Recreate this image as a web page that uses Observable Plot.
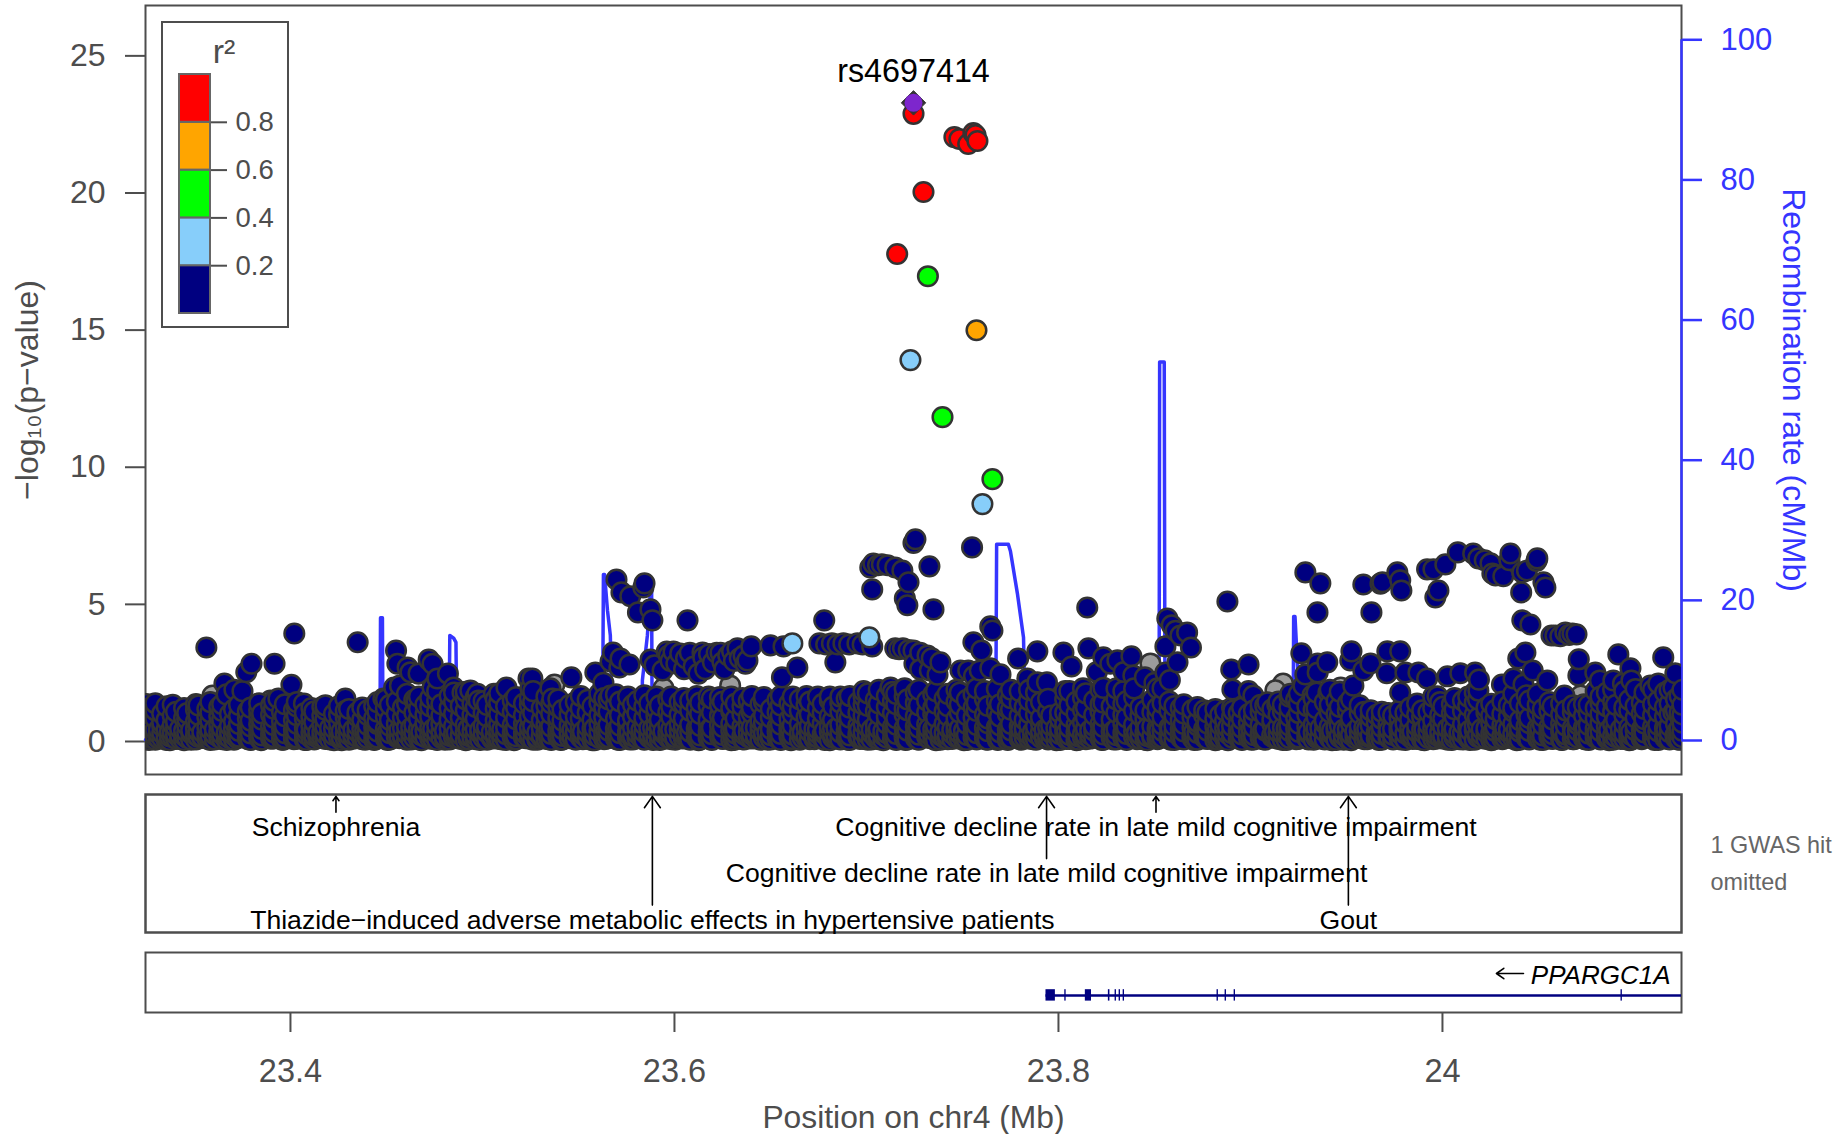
<!DOCTYPE html>
<html><head><meta charset="utf-8">
<script src="https://cdn.jsdelivr.net/npm/d3@7"></script>
<script src="https://cdn.jsdelivr.net/npm/@observablehq/plot@0.6"></script>
<style>
html,body{margin:0;padding:0;background:#fff;overflow:hidden}
#page{position:relative;width:1841px;height:1134px}
#page>svg{position:absolute;left:0}
</style></head><body><div id="page"></div>
<script>
// x positions are kb past 23.3 Mb on chr4; y values are -log10(p)
const chromOffsetMb = 23.3;
const xDomain = [23.3245, 24.1245];
const yTicks = [0,5,10,15,20,25];
const recTicks = [0,20,40,60,80,100];
const xTicks = [23.4,23.6,23.8,24];
const r2Breaks = [0,0.2,0.4,0.6,0.8,1];
const r2Colors = ["#000080","#87cefa","#00ff00","#ffa500","#ff0000"];
const r2TickValues = [0.2,0.4,0.6,0.8];
const leadSnp = {name:"rs4697414", kb:424.5, logp:23.25};
const redPoints = [[424.5,22.85],[445.8,22.0],[448.4,21.93],[453,21.75],[455.7,22.15],[456.8,22.08],[457.8,21.86],[429.7,20.0],[416,17.74]];
const orangePoints = [[457.3,14.96]];
const greenPoints = [[432,16.93],[439.6,11.79],[465.6,9.53]];
const bluePoints = [[422.9,13.87],[460.4,8.62],[361.4,3.54],[401.5,3.76]];
const grayPoints = [[59.4,1.64],[89.6,1.46],[237.5,2.04],[294.3,1.9],[329,2.0],[547.9,2.81],[617,2.08],[613,1.83],[647,1.93],[682,1.2],[772,1.64],[774.4,1.28]];
const navyHigh = [[56.2,3.39],[102,3.9],[135,3.58],[79.7,2.8],[77,2.49],[91.7,2.8],[100.5,2.03],[65.6,2.08],[75,1.8],[70.8,1.85],[66.7,1.68],
[155,3.28],[155.7,2.8],[161,2.66],[162.5,2.49],[166.7,2.44],[172,2.95],[174,2.8],[157,2.0],[154,1.93],[165.6,1.46],[182,2.44],[176.5,2.26],[174,1.93],[185,1.93],[189.6,1.75],[193.7,1.82],[197.4,1.7],[198,1.46],[206,1.7],[212.5,1.93],[224,2.26],[225,1.9],[128.6,1.53],[107,1.35],[93.7,1.53],[148.4,1.53],
[269.8,5.87],[272.4,5.4],[277,5.26],[284.4,5.73],[283.8,5.58],[281,4.67],[287.5,4.78],[288.5,4.38],[306.8,4.38],[268,3.21],[266.7,2.88],[271.9,2.99],[271.3,2.66],[276.6,2.77],[258.8,2.48],[246.3,2.3],[263,2.1],[266.7,1.64],[235.4,1.9],[236.4,1.53],[226,2.26],
[287.5,2.95],[289.6,2.74],[293.8,2.55],[296,3.24],[297,3.1],[298,2.9],[299.5,3.24],[301,2.8],[303,3.17],[305,2.6],[306,3.0],[308,3.2],[310,2.7],[312.5,2.44],[314.6,3.21],[315,3.03],[316,2.6],[318,3.15],[320,2.85],[322,3.2],[324,3.2],[325,2.85],[326,2.6],[328,3.1],[330,3.25],[331,2.9],[332.8,3.36],[334,3.0],[336,3.1],[337,2.8],[338,2.92],[340,3.43],[350,3.47],[356.8,3.43],[364,2.66],[356,2.3],[383.8,2.85],[378,4.38],[375.5,3.54],[379,3.5],[382,3.54],[385,3.5],[388,3.54],[391,3.5],[395.3,3.54],[398,3.5],[403,3.43],[415,3.36],[417,3.33],[419,3.36],[422,3.3],[424.5,3.28],[428,3.2],[431.8,3.1],[434,3.0],[438.5,2.85],
[425.5,7.34],[424.5,7.2],[455,7.04],[432.8,6.35],[402,6.31],[403.6,6.45],[406,6.39],[408,6.42],[411,6.39],[415,6.31],[418.7,6.2],[421.9,5.77],[403,5.51],[420,5.18],[421.3,4.93],[434.9,4.78],[515,4.85],[464.5,4.16],[465.6,4.01],[455.7,3.58],[459.9,3.28],[479,2.99],[489,3.25],[502.6,3.21],[506.8,2.7],[515.6,3.36],
[556.7,4.45],[559,4.2],[561,4.0],[567,3.94],[569,3.39],[563.5,3.83],[555.7,3.43],[562,2.85],[555.7,2.48],[538,3.07],[523.4,3.03],[530.7,2.92],[539,2.37],[527,2.8],[534,2.5],[520,2.5],[545,2.3],[425,2.8],[428,2.6],[433,2.55],[437,2.4],[469.8,2.41],[464.5,2.63],[459,2.55],[453,2.55],[449,2.55],[456,2.35],[483.8,2.26],[494,2.12],[489,2.12],[412.5,1.93],[550,2.1],[558,2.2],
[588,5.07],[628.6,6.13],[636.4,5.73],[634.9,4.67],[658.8,5.69],[663,4.67],[667.7,5.72],[668.7,5.77],[676.5,6.13],[678,5.84],[678.6,5.47],[692,6.24],[695.3,6.24],[701.5,6.42],[708,6.86],[716,6.82],[718.7,6.64],[722,6.57],[725,6.46],[726,6.09],[727.6,6.02],[731.7,5.99],[735.4,6.82],[734.9,6.57],[744,6.2],[741.6,6.13],[749.4,6.64],[749,6.55],[752.6,5.77],[753.6,5.58],[741,5.4],[697.9,5.47],[696.3,5.22],[743.2,3.21],[745.8,4.23],[741.6,4.38],[739.5,2.99],[756.8,3.83],[758.8,3.83],[761.4,3.8],[764,3.94],[766,3.85],[767.7,3.9],[769.8,3.87],[771,2.96],[770.8,2.37],[791.6,3.14],[797.9,2.63],[815,3.03],
[626.5,3.18],[652.6,3.25],[652,2.92],[671.3,3.25],[678,3.25],[640,2.85],[635,2.81],[635,2.48],[628.6,2.41],[590,2.59],[599,2.77],[662.5,2.81],[658.8,2.55],[671,2.45],[680.7,2.48],[687.5,2.48],[692,2.26],[702.6,2.34],[709.3,2.45],[717,2.48],[719,2.22],[718.7,1.82],[697.4,1.61],[678,1.75],[653.6,2.0],[640.6,1.75],[632.3,1.65],[620.8,1.7],[627.6,2.0],[590.6,1.86],[599,1.8],[601.5,1.64],[591,1.09],[608.8,1.39],[614,1.3],[737,2.26],[747,2.55],[754.6,2.19],[731,2.04],[742.2,2.04],[763.5,1.64],[779.6,2.48],[782,2.19],[789,2.19],[794,2.08],[798.4,2.19],[808.3,2.0],[812.4,2.08],[821.3,2.45],[820.3,1.93],[820.3,1.02],[821.3,.18]];
// dense band: each row is one position (kb) followed by the -log10(p) values read at it
const bandRows = [
[25,.05,.2,.46,.72,1.02,1.33],[27.4,.1,.34,.6,.95,1.2],[29.6,.03,.17,.38,.8,1.1,1.36],[33.2,.08,.27,.52,.66,.98],[35.5,.02,.14,.41,.75,1.25],[38.7,.12,.3,.58,.9,1.3],[40.4,.06,.22,.47,.68,1.05],[44.6,.01,.18,.36,.82,1.18],[46.2,.09,.29,.55,.78,1.0],[50.8,.04,.2,.44,.7,1.12,1.33],
[52.1,.13,.32,.62,.93,1.28],[56.7,.07,.24,.49,.85,1.15],[58.3,.02,.16,.4,.73,1.02,1.4],[62.9,.11,.31,.57,.88,1.22],[64.4,.05,.23,.46,.77,1.08,1.32],[68.5,.08,.28,.53,.96],[70.6,.03,.19,.43,.69,1.14],[73.2,.14,.35,.6,.91,1.3],[77.8,.06,.21,.48,.8,1.06],[79.3,.02,.26,.51,.72,1.2],
[83.7,.1,.33,.59,.87,1.1,1.36],[85.2,.04,.18,.42,.76,.99],[89.9,.07,.25,.5,.94,1.28],[91.4,.12,.3,.56,.83,1.16,1.44],[95.6,.03,.2,.45,.7,1.04],[97.1,.09,.27,.54,.89,1.32],[101.8,.05,.15,.39,.74,1.1],[103.3,.11,.34,.61,.92,1.24,1.4],[107.5,.02,.22,.47,.79,1.0],[110.9,.08,.29,.52,.86,1.18],
[112.4,.04,.17,.4,.67,1.06],[116.6,.13,.31,.58,.9,1.22],[118.2,.06,.24,.49,.78,1.12,1.28],[122.7,.01,.19,.44,.71,.97],[125.3,.1,.36,.63,.95,1.26],[128.8,.07,.26,.5,.84,1.08],[130.5,.03,.21,.46,.73,1.15],[134.9,.12,.32,.55,.88,1.02],[137.4,.05,.18,.41,.76,1.2],[140.2,.09,.28,.57,.93,1.1],
[143.6,.02,.23,.48,.81,1.25],[145.3,.11,.33,.6,.69,1.05,1.4],[149.7,.06,.2,.43,.87,1.18,1.5],[151.8,.04,.27,.53,.75,1.3],[155.4,.13,.35,.62,.98,1.42],[158.6,.08,.16,.45,.83,1.2],[160.7,.03,.24,.51,.91,1.35,1.7],[164.5,.1,.3,.58,1.02,1.48],[166.9,.05,.19,.42,.79,1.15,1.6],[170.3,.12,.37,.64,.95,1.3],
[172.8,.07,.22,.47,.86,1.24,1.55],[176.4,.02,.28,.55,1.06,1.45,1.8],[178.6,.09,.33,.6,.9,1.32],[182.9,.04,.17,.44,.77,1.18,1.62],[185.2,.11,.26,.52,.98,1.4,1.75],[188.7,.06,.21,.49,.84,1.26],[191.3,.01,.31,.57,1.1,1.5,1.78],[194.8,.1,.36,.63,.93,1.35],[196.5,.05,.18,.41,.8,1.22,1.58],[200.6,.08,.25,.54,1.0,1.44],
[202.4,.03,.29,.5,.88,1.3],[206.9,.12,.2,.46,.74,1.16,1.5],[208.7,.06,.34,.59,.96,1.38,1.72],[212.3,.02,.23,.48,.83,1.25],[215.8,.09,.3,.56,1.04,1.45],[217.5,.05,.16,.43,.78,1.2,1.58],[221.6,.11,.27,.61,.92,1.35],[224.7,.07,.22,.47,.86,1.3,1.55],[226.4,.03,.32,.53,1.0,1.42,1.8],[230.9,.1,.19,.45,.75,1.18],
[233.3,.06,.28,.58,.9,1.28,1.6],[235.8,.02,.24,.5,.97,1.35],[239.5,.13,.35,.65,.84,1.22,1.5],[241.7,.04,.17,.42,.72,1.12],[245.4,.08,.26,.55,.95,1.3],[248.6,.03,.31,.6,.88,1.4],[251.2,.11,.21,.46,.79,1.16,1.62],[254.8,.06,.29,.52,1.02,1.48],[257.3,.01,.18,.44,.76,1.25],[260.9,.09,.33,.62,.93,1.38,1.7],
[263.4,.05,.23,.49,.85,1.2,1.55],[265.7,.12,.36,.57,1.05,1.5],[269.5,.07,.2,.43,.8,1.32,1.68],[271.6,.02,.27,.54,.92,1.42],[275.8,.1,.32,.6,.74,1.18,1.6],[278.4,.04,.16,.47,.87,1.3],[280.7,.08,.25,.51,1.0,1.45],[284.3,.03,.3,.58,.82,1.24,1.65],[286.9,.11,.22,.45,.96,1.36],[290.6,.06,.34,.63,.9,1.15,1.6],
[292.4,.02,.19,.48,.77,1.28],[296.8,.09,.28,.55,1.04,1.5],[298.3,.05,.24,.41,.86,1.22,1.6],[302.7,.13,.37,.6,.94,1.4],[304.9,.07,.21,.5,.81,1.33,1.55],[308.2,.03,.31,.57,1.08,1.46],[311.6,.1,.26,.44,.89,1.2,1.62],[313.4,.04,.18,.53,.97,1.38],[317.8,.08,.33,.62,.76,1.26,1.6],[319.5,.02,.23,.46,1.02,1.52],
[323.7,.12,.29,.56,.91,1.3,1.58],[325.2,.06,.2,.49,.84,1.42],[329.6,.01,.35,.61,1.06,1.18,1.6],[331.9,.09,.25,.43,.79,1.35],[335.4,.05,.17,.52,.95,1.25,1.55],[338.7,.11,.3,.59,.87,1.45],[340.3,.07,.22,.47,1.0,1.2,1.62],[344.8,.03,.34,.54,.73,1.32],[346.6,.1,.27,.64,.92,1.4,1.58],[350.2,.04,.19,.42,.83,1.15],
[353.7,.08,.32,.5,1.03,1.48],[355.4,.02,.24,.58,.9,1.28,1.62],[359.9,.13,.36,.45,.78,1.36],[361.6,.06,.21,.55,.96,1.22,1.6],[365.3,.03,.28,.6,1.08,1.5],[368.8,.09,.16,.48,.85,1.3,1.62],[370.5,.05,.31,.53,.94,1.42],[374.7,.11,.26,.41,.8,1.18,1.6],[377.2,.07,.23,.62,1.0,1.34],[380.9,.01,.33,.51,.88,1.46,1.6],
[382.6,.1,.2,.44,.75,1.24],[386.4,.04,.29,.57,1.05,1.38,1.6],[389.7,.08,.35,.63,.92,1.52],[391.3,.02,.18,.46,.83,1.2,1.62],[395.8,.12,.25,.54,1.02,1.4],[398.5,.06,.3,.6,.9,1.3,1.6,1.8],[400.7,.03,.22,.49,.77,1.26,1.72],[404.9,.09,.34,.56,1.07,1.48],[406.4,.05,.17,.43,.95,1.35,1.85],[410.6,.11,.27,.61,.86,1.22,1.62],
[413.8,.07,.32,.5,1.0,1.44,1.78],[415.5,.02,.24,.58,.81,1.32,1.7],[419.9,.1,.19,.45,.93,1.16,1.6,1.9],[421.4,.04,.36,.64,1.1,1.5],[425.7,.08,.26,.52,.88,1.38,1.75],[427.3,.03,.21,.47,.76,1.28,1.85],[431.6,.13,.31,.59,1.03,1.45],[434.8,.06,.23,.42,.96,1.2,1.68],[436.2,.01,.33,.55,.85,1.34,1.8],[440.7,.09,.28,.62,1.06,1.52],
[442.4,.05,.18,.48,.9,1.25,1.7],[446.9,.11,.35,.53,.79,1.42,1.85],[448.6,.07,.25,.44,1.01,1.3,1.75],[452.3,.02,.2,.6,.92,1.48],[455.8,.1,.3,.51,.84,1.2,1.68],[457.4,.04,.27,.57,1.08,1.38,1.9],[461.7,.08,.16,.46,.95,1.5,1.8],[463.2,.03,.34,.63,.8,1.26],[467.9,.12,.22,.49,1.04,1.44,1.88],[469.5,.06,.29,.55,.87,1.32],
[473.6,.02,.19,.41,.97,1.18,1.65],[475.3,.09,.37,.6,1.12,1.54,1.85],[479.8,.05,.24,.52,.89,1.36,1.8],[482.4,.11,.31,.45,.76,1.22],[484.7,.07,.21,.58,1.0,1.46,1.85],[488.3,.03,.26,.5,.94,1.3,1.75],[490.9,.1,.33,.62,.83,1.4],[494.6,.04,.17,.47,1.06,1.52],[496.2,.08,.28,.54,.91],[500.8,.02,.23,.43,.78,1.02],
[503.5,.13,.35,.59,1.02,1.5,1.8],[505.7,.06,.2,.48,.86,1.28,1.8],[509.4,.01,.3,.56,.98,1.42],[512.8,.09,.25,.65,1.1,1.55,1.9],[514.3,.05,.18,.44,.82,1.2,1.72],[518.6,.11,.36,.53,.93,1.46],[521.9,.07,.27,.6,1.05,1.32,1.85],[523.4,.03,.22,.49,.88,1.38,1.92],[527.7,.1,.32,.55,.77,1.25],[530.2,.04,.19,.42,1.01,1.5,1.9],
[533.8,.08,.29,.61,.95,1.34,1.8],[535.5,.02,.24,.5,.84,1.44],[539.4,.12,.34,.57,1.08,1.58,1.9],[542.7,.06,.21,.46,.9,1.22],[545.3,.03,.31,.63,.79,1.1],[548.9,.09,.17,.52,1.03,1.48],[551.6,.05,.26,.44,.96,1.2,1.9],[554.2,.11,.35,.58,.86,1.36,1.9],[557.8,.07,.2,.48,1.1,1.42],[560.4,.02,.3,.54,.92,1.26],
[563.7,.1,.23,.41,.75,1.18],[565.3,.04,.33,.6,.99,1.32],[569.8,.08,.18,.47,.85,1.12],[572.4,.03,.28,.55,.68,1.22],[575.9,.12,.25,.43,.91,1.1],[577.6,.06,.36,.62,1.02],[581.7,.01,.2,.5,.8,1.15],[584.3,.09,.3,.57,.94],[586.8,.05,.16,.45,.72,1.08],[590.4,.11,.27,.53,.87,1.2],
[593.9,.07,.34,.6,1.0],[595.6,.02,.22,.46,.78,1.2],[599.2,.1,.32,.64,.97],[601.8,.04,.19,.49,.83,1.1],[605.3,.08,.26,.56,1.04,1.3],[607.7,.03,.37,.42,.9,1.28],[611.4,.13,.21,.59,.76,1.15],[614.6,.06,.29,.51,.95,1.42],[616.9,.02,.24,.47,1.06,1.3],[620.3,.09,.35,.54,.88,1.2,1.6],
[623.8,.05,.17,.44,.81,1.48],[625.2,.11,.31,.61,1.0,1.34,1.7],[629.6,.07,.23,.5,.93,1.25],[632.9,.03,.28,.58,1.12,1.52],[634.4,.1,.2,.45,.85,1.18,1.75],[638.7,.04,.33,.63,.74,1.4],[641.3,.08,.25,.52,1.03,1.3,1.85],[644.8,.02,.36,.48,.96,1.44],[646.5,.12,.19,.56,.89,1.22,1.78],[650.7,.06,.3,.42,1.08,1.36],
[652.4,.01,.22,.6,.82,1.5],[656.9,.09,.34,.53,.98,1.28],[659.3,.05,.27,.46,1.05],[662.6,.11,.17,.55,.87,1.1],[665.8,.07,.32,.64,.94],[668.4,.03,.24,.49,.79,1.05],[671.9,.1,.29,.57,1.0],[674.3,.04,.2,.43,.91],[677.6,.08,.36,.51,.84,1.1],[680.7,.02,.26,.62,1.01],
[683.2,.13,.21,.47,.77,1.2],[686.8,.06,.31,.54,.95,1.35],[689.4,.03,.18,.41,.86,1.1],[692.7,.09,.35,.59,1.04],[695.2,.05,.25,.45,.72,1.18,1.6],[698.8,.11,.3,.65,.92,1.4],[700.4,.07,.16,.5,.8,1.24],[704.9,.02,.33,.56,.99,1.32],[706.3,.1,.23,.43,.88,1.14,1.55],[710.7,.04,.28,.6,1.07,1.45],
[713.4,.08,.19,.48,.76,1.26,1.6],[716.8,.03,.37,.52,.94,1.38,1.75],[718.5,.12,.22,.58,.83,1.5],[722.9,.06,.3,.44,1.02,1.2],[725.4,.01,.26,.62,.9,1.34],[727.7,.09,.34,.49,.78,1.12],[731.2,.05,.17,.55,.96,1.42],[734.6,.11,.29,.41,.86,1.28],[736.9,.07,.24,.6,1.05,1.18,1.7],[740.3,.03,.32,.47,.74,1.36],
[743.8,.1,.2,.53,.93,1.22,1.65],[745.2,.04,.35,.63,.82,1.46],[749.6,.08,.27,.45,1.0,1.3,1.7],[752.3,.02,.18,.57,.88,1.15],[755.7,.13,.31,.5,1.08,1.4],[757.4,.06,.23,.42,.77,1.25],[761.8,.03,.33,.61,.95,1.35],[764.3,.09,.21,.54,.85,1.1],[767.9,.05,.28,.46,1.03,1.28],[770.5,.11,.36,.59,.72,1.2],
[773.7,.07,.16,.48,.91,1.32],[776.2,.02,.25,.56,1.0,1.3],[779.8,.1,.3,.43,.8,1.18,1.8],[782.3,.04,.34,.64,.97,1.36,1.6],[785.6,.08,.22,.51,.87,1.24,1.75],[788.9,.03,.19,.58,1.06,1.42,1.85],[790.4,.12,.32,.44,.75,1.3],[794.7,.06,.26,.6,.94,1.2,1.8],[797.3,.01,.2,.47,1.1,1.48],[800.6,.09,.37,.55,.84,1.26,1.88],
[803.8,.05,.24,.41,.98,1.38],[805.2,.11,.29,.62,.78,1.15,1.75],[809.7,.07,.17,.5,.92,1.32,1.85],[812.4,.02,.33,.57,1.04,1.45],[815.9,.1,.23,.46,.86,1.22,1.75],[818.3,.04,.3,.53,.96,1.35,1.85],[821.6,.08,.21,.6,1.08,1.5],[823.5,.03,.28,.44,.88,1.02,1.62],[825,.12,.35,.65,.95,1.3,1.85]
];
// extra strongly overlapping low-significance variants
const lowRows = [
[26.3,.02,.11,.28],[31.4,.07,.24,.4],[37.2,.01,.15,.33],[42.5,.06,.19,.43],[48.3,.03,.26,.37],[54.1,.09,.13,.31],[60.6,.04,.22,.42],[66.8,.02,.17,.29],[72.3,.08,.25,.39],[78.4,.05,.12,.35],
[84.6,.01,.21,.44],[90.7,.07,.16,.32],[96.3,.03,.27,.41],[102.8,.06,.14,.36],[108.4,.02,.23,.38],[114.5,.09,.18,.3],[120.6,.04,.28,.45],[126.7,.01,.11,.34],[132.8,.07,.2,.4],[138.9,.03,.25,.37],
[144.4,.05,.15,.43],[150.6,.02,.22,.31],[156.8,.08,.13,.39],[162.9,.04,.26,.46],[168.2,.01,.19,.33],[174.3,.06,.24,.42],[180.5,.03,.12,.36],[186.6,.09,.21,.28],[192.7,.05,.17,.44],[198.8,.02,.27,.38],
[204.9,.07,.14,.32],[210.3,.04,.23,.41],[216.4,.01,.16,.35],[222.5,.08,.25,.47],[228.6,.03,.11,.3],[234.7,.06,.2,.43],[240.8,.02,.28,.37],[246.9,.09,.15,.4],[252.3,.05,.22,.33],[258.4,.01,.18,.45],
[264.5,.07,.26,.36],[270.6,.03,.13,.42],[276.7,.04,.21,.31],[282.8,.08,.24,.39],[288.9,.02,.16,.46],[294.3,.06,.27,.34],[300.4,.03,.12,.41],[306.5,.09,.2,.29],[312.6,.01,.23,.38],[318.7,.05,.17,.44],
[324.8,.07,.25,.32],[330.9,.02,.14,.4],[336.3,.04,.22,.35],[342.4,.08,.19,.47],[348.5,.03,.26,.3],[354.6,.06,.11,.43],[360.7,.01,.21,.37],[366.8,.09,.28,.33],[372.9,.05,.15,.42],[378.3,.02,.24,.36],
[384.4,.07,.18,.45],[390.5,.03,.23,.31],[396.6,.06,.13,.39],[402.7,.04,.27,.41],[408.8,.01,.2,.34],[414.9,.08,.16,.46],[420.3,.02,.25,.29],[426.4,.05,.12,.38],[432.5,.09,.22,.44],[438.6,.03,.19,.32],
[444.7,.06,.26,.4],[450.8,.01,.14,.36],[456.9,.07,.21,.43],[462.3,.04,.28,.3],[468.4,.02,.17,.47],[474.5,.08,.23,.35],[480.6,.03,.11,.41],[486.7,.05,.25,.33],[492.8,.09,.18,.39],[498.9,.01,.2,.45],
[504.3,.06,.27,.31],[510.4,.03,.15,.42],[516.5,.07,.22,.37],[522.6,.02,.13,.44],[528.7,.04,.24,.34],[534.8,.08,.19,.4],[540.9,.05,.26,.29],[546.3,.01,.16,.46],[552.4,.09,.21,.36],[558.5,.03,.12,.43],
[564.6,.06,.28,.38],[570.7,.02,.17,.32],[576.8,.07,.23,.41],[582.9,.04,.14,.35],[588.3,.01,.25,.47],[594.4,.08,.2,.3],[600.5,.03,.11,.42],[606.6,.05,.27,.37],[612.7,.09,.18,.33],[618.8,.02,.22,.44],
[624.9,.06,.15,.39],[630.3,.04,.26,.31],[636.4,.07,.13,.45],[642.5,.01,.24,.36],[648.6,.03,.19,.4],[654.7,.08,.21,.34],[660.8,.05,.16,.43],[666.9,.02,.28,.29],[672.3,.09,.12,.38],[678.4,.04,.23,.46],
[684.5,.06,.17,.32],[690.6,.01,.25,.41],[696.7,.07,.2,.35],[702.8,.03,.14,.44],[708.9,.05,.27,.3],[714.3,.02,.11,.37],[720.4,.08,.22,.42],[726.5,.04,.18,.33],[732.6,.09,.26,.47],[738.7,.01,.15,.39],
[744.8,.06,.21,.31],[750.9,.03,.24,.43],[756.3,.07,.13,.36],[762.4,.02,.28,.4],[768.5,.05,.19,.34],[774.6,.04,.16,.45],[780.7,.08,.23,.29],[786.8,.01,.12,.38],[792.9,.06,.25,.42],[798.3,.03,.2,.32],
[804.4,.09,.17,.46],[810.5,.02,.27,.35],[816.6,.07,.14,.41],[822.7,.04,.22,.37]
];

const blue = "#3535ff", gray = "#4d4d4d", ink = "#000", edge = "#333", navy = "#000080";
const font = '"Liberation Sans", Arial, sans-serif';
const baseStyle = {fontFamily:font, background:"transparent"};
const recToY = r => r * 0.2555;
const toMb = kb => chromOffsetMb + kb/1000;

// recombination rate line
const recKb = [24.5,146.6,146.9,147.9,148.2,182.5,183,185,186.2,186.7,262.5,263,263.6,265.1,266.6,267.2,267.6,282.9,283.3,285.9,287.5,287.9,288.1,288.4,467.3,467.8,473.9,475,478.6,481.8,482.3,483.4,552.4,552.7,555.1,555.5,622.2,622.5,623.2,625,626.5,824.5];
const recRate = [0.1,0.1,17.5,17.5,0.1,0.1,15,14.6,14,0.1,0.1,23.7,23.7,18.6,15,8,0.1,0.1,8.6,15,21.4,22,22,0.1,0.1,28,28,27,21,14.7,8,0.1,0.1,54,54,0.1,0.1,17.7,17.7,8,0.1,0.1];
const recRows = recKb.map((k,i)=>({x:toMb(k),y:recToY(recRate[i])}));

const pts = a => a.map(([k,v])=>({x:toMb(k),y:v}));
const rowsToPts = rows => rows.flatMap(([k,...vs])=>vs.map(v=>({x:toMb(k),y:v})));
// the reference paints its variants left to right along the chromosome
const navyPts = [...rowsToPts(bandRows),...rowsToPts(lowRows),...pts(navyHigh)].sort((a,b)=>a.x-b.x);
const dotOpts = {x:"x",y:"y",r:9.8,stroke:edge,strokeWidth:2.5,clip:true};

const main = Plot.plot({
  width:1841,height:790,marginLeft:145,marginRight:160,marginTop:5,marginBottom:16,
  style:baseStyle,
  x:{domain:xDomain,axis:null},
  y:{domain:[-1.24,26.8],axis:null},
  marks:[
    Plot.frame({stroke:gray,strokeWidth:2}),
    Plot.axisY({ticks:yTicks,tickSize:20,tickPadding:20,fontSize:32,label:null,color:gray,strokeWidth:2,dy:1}),
    Plot.axisY({anchor:"right",ticks:recTicks.map(recToY),tickFormat:v=>String(Math.round(v/0.2555)),tickSize:20,tickPadding:19,fontSize:31,label:null,color:blue,strokeWidth:2.5}),
    Plot.ruleX([xDomain[1]],{y1:0,y2:recToY(100),stroke:blue,strokeWidth:2.5}),
    Plot.text(["\u2212log\u2081\u2080(p\u2212value)"],{frameAnchor:"left",textAnchor:"middle",dx:-118,rotate:-90,fontSize:32,fill:gray}),
    Plot.text(["Recombination rate (cM/Mb)"],{frameAnchor:"right",textAnchor:"middle",dx:112,rotate:90,fontSize:32,fill:blue}),
    Plot.line(recRows,{x:"x",y:"y",stroke:blue,strokeWidth:3.5,curve:"linear"}),
    Plot.dot(pts(grayPoints),{...dotOpts,fill:"#9c9c9c"}),
    Plot.dot(navyPts,{...dotOpts,fill:navy}),
    Plot.dot(pts(bluePoints),{...dotOpts,fill:"#87cefa"}),
    Plot.dot(pts(greenPoints),{...dotOpts,fill:"#00ff00"}),
    Plot.dot(pts(orangePoints),{...dotOpts,fill:"#ffa500"}),
    Plot.dot(pts(redPoints),{...dotOpts,fill:"#ff0000"}),
    Plot.dot([leadSnp],{x:d=>toMb(d.kb),y:"logp",symbol:"diamond2",r:11,fill:edge,stroke:edge,strokeWidth:1}),
    Plot.dot([leadSnp],{x:d=>toMb(d.kb),y:"logp",r:9,fill:"#7d26cd"}),
    Plot.text([leadSnp],{x:d=>toMb(d.kb),y:()=>24.4,text:"name",fontSize:32.3,fill:ink})
  ]
});
main.style.top="0px";

// GWAS catalogue hits
const gwasKb = [123.7,288.5,493.8,550.8,651.0];
const gwasRow = [1,3,2,1,3];
const gwasTrait = ["Schizophrenia","Thiazide\u2212induced adverse metabolic effects in hypertensive patients","Cognitive decline rate in late mild cognitive impairment","Cognitive decline rate in late mild cognitive impairment","Gout"];
const gwasRows = gwasKb.map((k,i)=>({x:toMb(k),row:gwasRow[i],trait:gwasTrait[i]}));
const omittedNote = [{t:"1 GWAS hit",row:1.39},{t:"omitted",row:2.18}];
const gwas = Plot.plot({
  width:1841,height:160,marginLeft:145,marginRight:160,marginTop:14,marginBottom:8,
  style:baseStyle,
  x:{domain:xDomain,axis:null},
  y:{domain:[3.26,0.29],axis:null},
  marks:[
    Plot.frame({stroke:gray,strokeWidth:2.5}),
    Plot.arrow(gwasRows,{x1:"x",x2:"x",y1:d=>d.row-0.33,y2:()=>0.33,bend:false,stroke:ink,strokeWidth:1.6,headLength:13,headAngle:70}),
    Plot.text(gwasRows,{x:"x",y:"row",text:"trait",fontSize:26.6,fill:ink}),
    Plot.text(omittedNote,{frameAnchor:"right",dx:29,y:"row",text:"t",textAnchor:"start",fontSize:23.4,fill:"#666"})
  ]
});
gwas.style.top="780px";

// gene track
const exonStart = [493.5,503.3,514,526,529.5,531.6,533.7,582.6,586.8,591.5,793];
const exonEnd = [498.4,504,517.2,526.8,530.2,532.3,534.4,583.3,587.5,592.2,793.7];
const geneName = "PPARGC1A";
const geneStartKb = 493.5;
const gene = Plot.plot({
  width:1841,height:194,marginLeft:145,marginRight:160,marginTop:12,marginBottom:122,
  style:baseStyle,
  x:{domain:xDomain,axis:null},
  y:{domain:[0,1],axis:null},
  marks:[
    Plot.frame({stroke:gray,strokeWidth:2}),
    Plot.axisX({ticks:xTicks,tickFormat:d=>String(d),tickSize:20,tickPadding:26,fontSize:32.5,label:null,color:gray,strokeWidth:2}),
    Plot.ruleY([0.283],{x1:toMb(geneStartKb),x2:xDomain[1],stroke:navy,strokeWidth:2.6}),
    Plot.rect(exonStart.map((s,i)=>({a:toMb(s),b:toMb(exonEnd[i])})),{x1:"a",x2:"b",y1:()=>0.19,y2:()=>0.38,fill:navy}),
    Plot.text([geneName],{x:()=>24.1188,y:()=>0.62,textAnchor:"end",fontSize:26,fontStyle:"italic",fill:ink}),
    Plot.arrow([0],{x1:()=>24.0422,x2:()=>24.0281,y1:()=>0.65,y2:()=>0.65,bend:false,stroke:ink,strokeWidth:1.6,headLength:13,headAngle:70}),
    Plot.text(["Position on chr4 (Mb)"],{frameAnchor:"bottom",lineAnchor:"middle",dy:105,fontSize:31.8,fill:gray})
  ]
});
gene.style.top="940px";

// r2 legend
const legendBins = r2Colors.map((c,i)=>({lo:r2Breaks[i],hi:r2Breaks[i+1],c}));
const legend = Plot.plot({
  width:128,height:307,marginLeft:18,marginRight:79,marginTop:53,marginBottom:15,
  style:{fontFamily:font,background:"#fff",outline:"2.5px solid "+gray,outlineOffset:"-2.5px"},
  x:{domain:[0,1],axis:null},
  y:{domain:[0,1],axis:null},
  marks:[
    Plot.rect(legendBins,{x1:()=>0,x2:()=>1,y1:"lo",y2:"hi",fill:"c",stroke:"#666",strokeWidth:2}),
    Plot.axisY({anchor:"right",ticks:r2TickValues,tickFormat:d3.format(".1f"),tickSize:16,tickPadding:9,fontSize:27.5,label:null,color:gray,strokeWidth:2}),
    Plot.text(["r\u00b2"],{frameAnchor:"top",dx:29,dy:-36,fontSize:34,fill:gray})
  ]
});
legend.style.left="161px";legend.style.top="21px";

const page = document.getElementById("page");
[gene,gwas,main,legend].forEach(n=>page.appendChild(n));
</script></body></html>
